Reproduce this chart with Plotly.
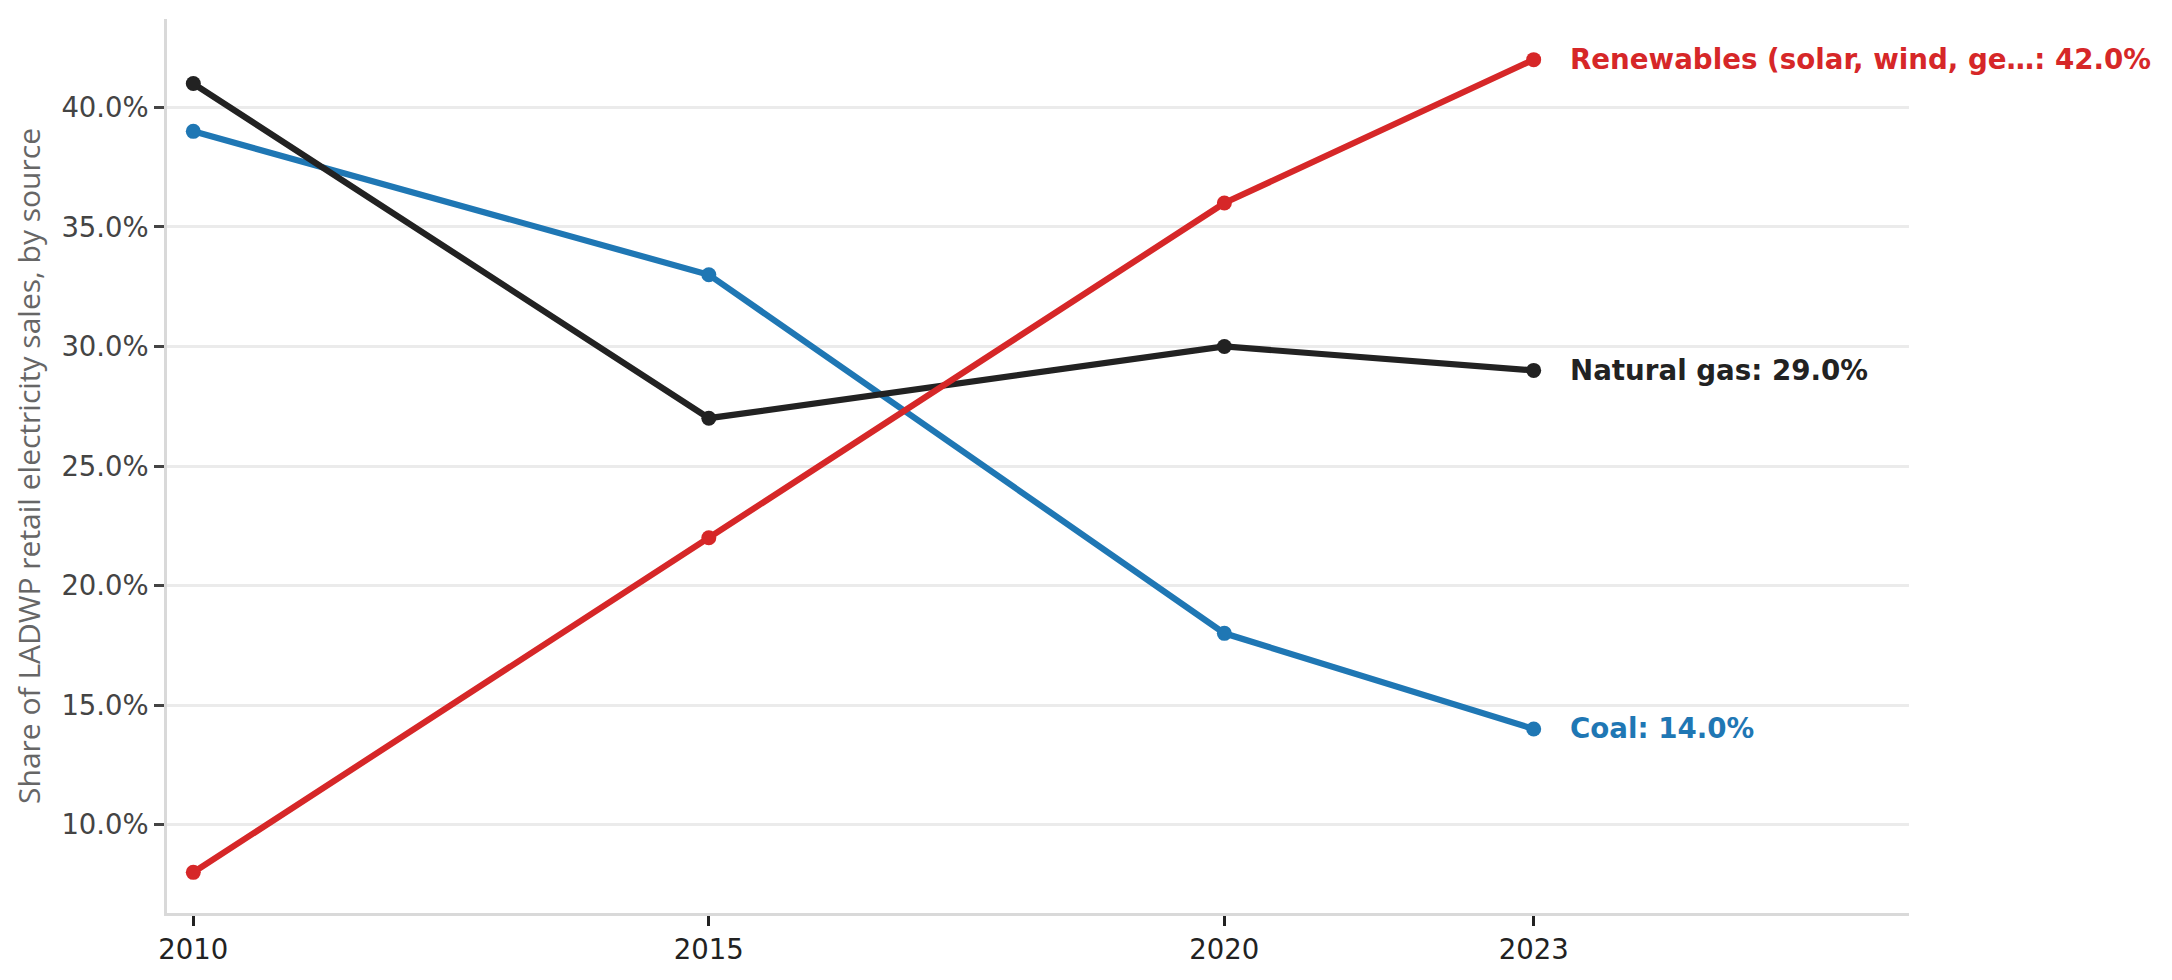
import plotly.graph_objects as go

years = [2010, 2015, 2020, 2023]
series_names = ["Coal", "Natural gas", "Renewables (solar, wind, ge…"]
coal = [0.39, 0.33, 0.18, 0.14]
natural_gas = [0.41, 0.27, 0.30, 0.29]
renewables = [0.08, 0.22, 0.36, 0.42]
colors = ["#1f77b4", "#222222", "#d62728"]
y_tick_vals = [0.10, 0.15, 0.20, 0.25, 0.30, 0.35, 0.40]

fig = go.Figure()
for name, vals, col in zip(series_names, [coal, natural_gas, renewables], colors):
    fig.add_trace(go.Scatter(
        x=years, y=vals, mode="lines+markers", name=name,
        line=dict(color=col, width=6.2),
        marker=dict(color=col, size=15),
        showlegend=False,
    ))
    fig.add_annotation(
        x=years[-1], y=vals[-1], xref="x", yref="y",
        text=f"<b>{name}: {vals[-1]*100:.1f}%</b>",
        showarrow=False, xanchor="left", yanchor="middle", xshift=34,
        font=dict(family="DejaVu Sans", size=27.7, color=col),
    )

fig.update_layout(
    width=2172, height=980,
    margin=dict(l=167, r=263, t=19, b=67),
    plot_bgcolor="white", paper_bgcolor="white",
    font=dict(family="DejaVu Sans", color="#333333"),
)
fig.update_xaxes(
    range=[2009.745, 2026.64],
    tickvals=years, ticktext=[str(y) for y in years],
    showgrid=False, zeroline=False,
    showline=True, linecolor="#d9d9d9", linewidth=2.5,
    ticks="outside", ticklen=10, tickwidth=2.5, tickcolor="#222222",
    tickfont=dict(family="DejaVu Sans", size=27.5, color="#222222"),
)
fig.update_yaxes(
    range=[0.063, 0.437],
    tickvals=y_tick_vals, tickformat=".1%",
    showgrid=True, gridcolor="#ebebeb", gridwidth=2.5, zeroline=False,
    showline=True, linecolor="#d9d9d9", linewidth=2.5,
    ticks="outside", ticklen=10, tickwidth=2.5, tickcolor="#444444",
    tickfont=dict(family="DejaVu Sans", size=27.5, color="#444444"),
    title=dict(text="Share of LADWP retail electricity sales, by source",
               font=dict(family="Open Sans", size=30, color="#666666"),
               standoff=12),
)

fig.write_html("out.html")
